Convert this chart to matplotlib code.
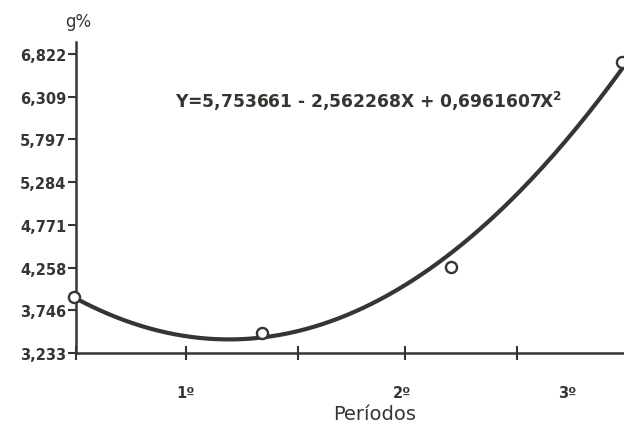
import numpy as np
import matplotlib.pyplot as plt

# observed points (period position, g%)
periodo = [0.99, 2.02, 3.06, 4.0]
valores = [3.905, 3.473, 4.266, 6.727]

# regression shown on the chart
b0, b1, b2 = 5.753661, -2.562268, 0.6961607

yticks = [3.233, 3.746, 4.258, 4.771, 5.284, 5.797, 6.309, 6.822]
ytick_labels = ['3,233', '3,746', '4,258', '4,771', '5,284', '5,797', '6,309', '6,822']
xticks = [1.0, 1.604, 2.22, 2.808, 3.423]
xlabel_pos = [1.60, 2.79, 3.70]
xlabel_txt = ['1º', '2º', '3º']

ink = '#353532'
W, H = 624, 427

fig = plt.figure(figsize=(W/100, H/100), dpi=100)
ax = fig.add_axes([76/W, 73/H, 548/W, 311/H])

X = np.linspace(1.0, 4.0, 200)
ax.plot(X, b0 + b1*X + b2*X**2, color=ink, lw=3, solid_capstyle='round', zorder=2)
ax.plot(periodo, valores, 'o', ms=8, mfc='white', mec=ink, mew=1.7, clip_on=False, zorder=3)

ax.set_xlim(1.0, 4.011)
ax.set_ylim(3.233, 6.966)

for s in ['top', 'right']:
    ax.spines[s].set_visible(False)
for s in ['left', 'bottom']:
    ax.spines[s].set_linewidth(1.8)
    ax.spines[s].set_color(ink)

ax.set_yticks(yticks, ytick_labels)
ax.tick_params(axis='y', direction='out', length=6, width=1.5, color=ink, pad=1,
               labelsize=10.5, labelcolor=ink)
for t in ax.get_yticklabels():
    t.set_fontweight('bold')

ax.set_xticks(xticks, [''] * len(xticks))
ax.tick_params(axis='x', which='major', direction='inout', length=10, width=1.5, color=ink)
ax.set_xticks(xlabel_pos, xlabel_txt, minor=True)
ax.tick_params(axis='x', which='minor', length=0, pad=23, labelsize=10.5, labelcolor=ink)
for t in ax.get_xticklabels(minor=True):
    t.set_fontweight('bold')

fig.text(375/W, 1 - 415/H, 'Períodos', fontsize=14, color=ink, ha='center', va='center')
fig.text(78/W, 1 - 22/H, 'g%', fontsize=12, color=ink, ha='center', va='center')
fig.text(175/W, 1 - 101/H, r'Y=5,753661 - 2,562268X + 0,6961607X$^{\mathbf{2}}$',
         fontsize=12.3, fontweight='bold', color=ink, va='center')

fig.savefig('out.png', dpi=100, facecolor='white')
